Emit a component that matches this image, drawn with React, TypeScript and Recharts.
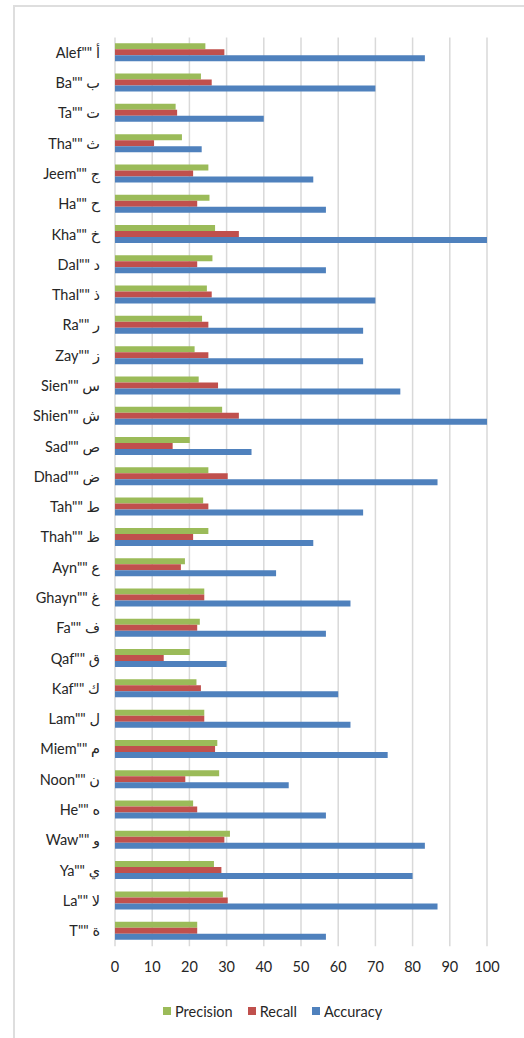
import { BarChart, Bar, XAxis, YAxis, CartesianGrid, Legend } from 'recharts';

const letters = [
  'Alef"" أ', 'Ba"" ب', 'Ta"" ت', 'Tha"" ث', 'Jeem"" ج', 'Ha"" ح', 'Kha"" خ', 'Dal"" د',
  'Thal"" ذ', 'Ra"" ر', 'Zay"" ز', 'Sien"" س', 'Shien"" ش', 'Sad"" ص', 'Dhad"" ض', 'Tah"" ط',
  'Thah"" ظ', 'Ayn"" ع', 'Ghayn"" غ', 'Fa"" ف', 'Qaf"" ق', 'Kaf"" ك', 'Lam"" ل', 'Miem"" م',
  'Noon"" ن', 'He"" ه', 'Waw"" و', 'Ya"" ي', 'La"" لا', 'T""  ة',
];

const precision = [
  24.3, 23.1, 16.3, 18.0, 25.1, 25.4, 26.9, 26.2, 24.7, 23.4, 21.4, 22.5, 28.8, 20.1, 25.1,
  23.7, 25.1, 18.8, 24.0, 22.8, 20.1, 21.9, 24.0, 27.5, 28.0, 21.0, 30.9, 26.6, 29.0, 22.1,
];

const recall = [
  29.4, 26.0, 16.7, 10.5, 21.0, 22.1, 33.3, 22.1, 26.0, 25.1, 25.1, 27.7, 33.3, 15.5, 30.3,
  25.1, 21.0, 17.7, 24.0, 22.1, 13.1, 23.1, 24.0, 26.9, 18.9, 22.1, 29.4, 28.6, 30.3, 22.1,
];

const accuracy = [
  83.3, 70.0, 40.0, 23.3, 53.3, 56.7, 100, 56.7, 70.0, 66.7, 66.7, 76.7, 100, 36.7, 86.7,
  66.7, 53.3, 43.3, 63.3, 56.7, 30.0, 60.0, 63.3, 73.3, 46.7, 56.7, 83.3, 80.0, 86.7, 56.7,
];

const xTicks = [0, 10, 20, 30, 40, 50, 60, 70, 80, 90, 100];

const series = [
  { key: 'Precision', color: '#9BBB59' },
  { key: 'Recall', color: '#C0504D' },
  { key: 'Accuracy', color: '#4F81BD' },
];

const data = letters.map((name, i) => ({
  name,
  Precision: precision[i],
  Recall: recall[i],
  Accuracy: accuracy[i],
}));

const FONT = "Lato, 'DejaVu Sans', sans-serif";
const TEXT = '#262626';

function LegendRow() {
  return (
    <div style={{ display: 'flex', alignItems: 'center', height: 20, fontFamily: FONT, fontSize: 14.5, color: TEXT }}>
      {series.map((s) => (
        <div key={s.key} style={{ display: 'flex', alignItems: 'center', marginRight: 15 }}>
          <span style={{ width: 8, height: 8, background: s.color, marginRight: 4, display: 'inline-block' }} />
          <span>{s.key}</span>
        </div>
      ))}
    </div>
  );
}

export default function App() {
  return (
    <div style={{ position: 'absolute', left: 0, top: 0, width: 524, height: 1038, background: '#fff', overflow: 'hidden' }}>
      <div
        style={{
          position: 'absolute',
          left: 13,
          top: 5,
          width: 600,
          height: 1100,
          borderLeft: '2px solid #dedede',
          borderTop: '2px solid #dedede',
        }}
      />
      <div style={{ position: 'absolute', left: 0, top: 0 }}>
        <BarChart
          width={524}
          height={1038}
          data={data}
          layout="vertical"
          margin={{ top: 37.5, right: 37, bottom: 41.8, left: 0 }}
          barGap={0}
          barCategoryGap="19%"
        >
          <CartesianGrid horizontal={false} stroke="#d9d9d9" strokeWidth={1.5} />
          <XAxis
            type="number"
            domain={[0, 100]}
            ticks={xTicks}
            axisLine={false}
            tickLine={false}
            tickSize={0}
            tickMargin={16}
            height={30}
            tick={{ fill: TEXT, fontSize: 14.5, fontFamily: FONT }}
          />
          <YAxis
            type="category"
            dataKey="name"
            width={115}
            interval={0}
            axisLine={false}
            tickLine={false}
            tickSize={0}
            tickMargin={15}
            tick={{ fill: TEXT, fontSize: 14.5, fontFamily: FONT }}
          />
          <Legend
            verticalAlign="bottom"
            content={() => <LegendRow />}
            wrapperStyle={{ left: 163, top: 1001, width: 270, height: 20 }}
          />
          {series.map((s) => (
            <Bar key={s.key} dataKey={s.key} fill={s.color} isAnimationActive={false} />
          ))}
        </BarChart>
      </div>
    </div>
  );
}
